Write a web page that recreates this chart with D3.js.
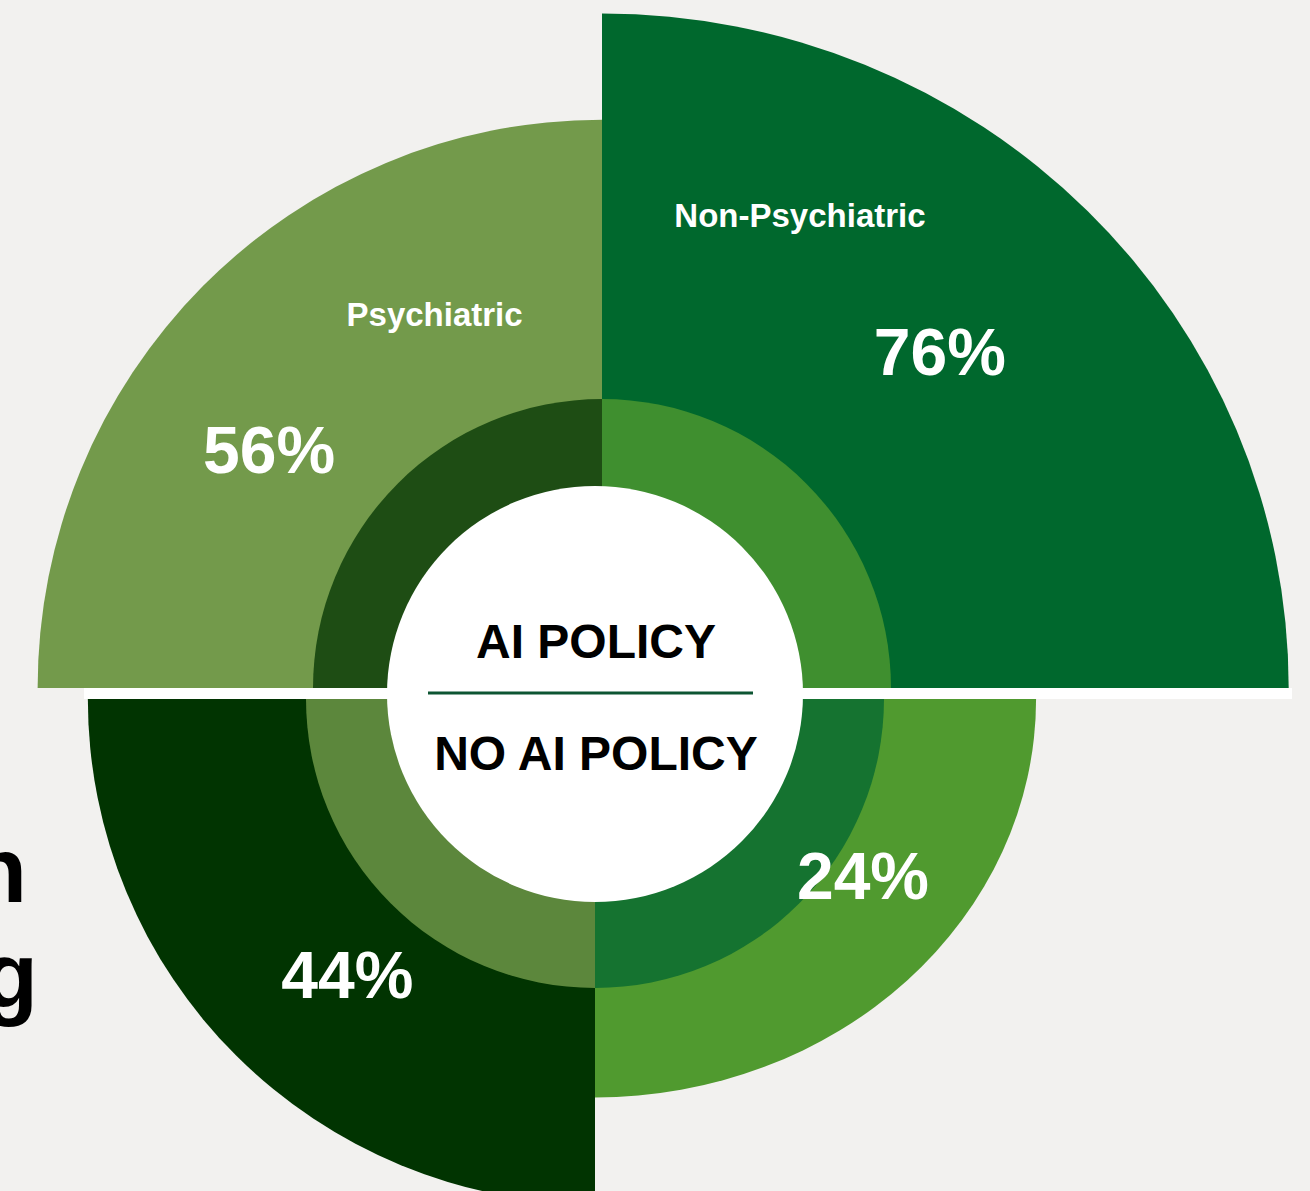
<!DOCTYPE html>
<html>
<head>
<meta charset="utf-8">
<script src="https://cdn.jsdelivr.net/npm/d3@7"></script>
<style>
body{margin:0;background:#f2f1ef;}
svg{display:block;font-family:"Liberation Sans",Arial,sans-serif;font-weight:bold;}
</style>
</head>
<body>
<div id="chart"></div>
<script>
// data
var groups = ['Non-Psychiatric', 'Psychiatric'];
var policies = ['AI POLICY', 'NO AI POLICY'];
var aiPolicy = [76, 56];
var noAiPolicy = [24, 44];

var width = 1310, height = 1191;
var innerR = 289;   // darker ring
var holeR = 208;    // white centre

// radius of a wedge grows with the share
var r = d3.scaleLinear()
  .domain([0, 100])
  .range([271, 802]);

var halves = [
  {name: policies[0], values: aiPolicy, cx: 602, cy: 688, a0: 0},
  {name: policies[1], values: noAiPolicy, cx: 595, cy: 699, a0: Math.PI}
];

// per quadrant look (order: halves x groups)
var looks = [
  {outer: '#00682d', inner: '#3f8f2f', sx: 1.018, lab: [45.1, 477], cat: [22.7, 513]},
  {outer: '#739a4b', inner: '#1e4d14', sx: 0.993, lab: [305.7, 410], cat: [335.9, 410]},
  {outer: '#509a2f', inner: '#157330', sx: 1.107, lab: [123.4, 321], cat: null},
  {outer: '#013401', inner: '#5c873c', sx: 1.005, lab: [222, 370], cat: null}
];

var quads = [];
halves.forEach(function (h, hi) {
  groups.forEach(function (g, gi) {
    // top half: non-psych right, psych left. bottom half: non-psych right, psych left
    var start, end;
    if (hi == 0) { start = gi == 0 ? 0 : -Math.PI / 2; }
    else { start = gi == 0 ? Math.PI / 2 : Math.PI; }
    end = start + Math.PI / 2;
    quads.push(Object.assign({policy: h.name, group: g, value: h.values[gi],
      a0: start, a1: end, cx: h.cx, cy: h.cy}, looks[hi * 2 + gi]));
  });
});

var svg = d3.select('#chart')
  .append('svg')
  .attr('width', width)
  .attr('height', height);

// cut-off heading on the left edge
svg.append('text').attr('x', 27).attr('y', 902).attr('text-anchor', 'end')
  .attr('font-size', 92).attr('fill', '#000').text('n');
svg.append('text').attr('x', 38).attr('y', 1008).attr('text-anchor', 'end')
  .attr('font-size', 92).attr('fill', '#000').text('g');

var outerArc = d3.arc()
  .innerRadius(0)
  .outerRadius(function (d) { return r(d.value); })
  .startAngle(function (d) { return d.a0; })
  .endAngle(function (d) { return d.a1; });

var innerArc = d3.arc()
  .innerRadius(0)
  .outerRadius(innerR)
  .startAngle(function (d) { return d.a0; })
  .endAngle(function (d) { return d.a1; });

svg.selectAll('path.outer')
  .data(quads)
  .enter().append('path')
  .attr('class', 'outer')
  .attr('transform', function (d) { return 'translate(' + d.cx + ',' + d.cy + ') scale(' + d.sx + ',1)'; })
  .attr('d', outerArc)
  .style('fill', function (d) { return d.outer; });

svg.selectAll('path.inner')
  .data(quads)
  .enter().append('path')
  .attr('class', 'inner')
  .attr('transform', function (d) { return 'translate(' + d.cx + ',' + d.cy + ')'; })
  .attr('d', innerArc)
  .style('fill', function (d) { return d.inner; });

// white band between the halves
svg.append('rect')
  .attr('x', 84).attr('y', 688)
  .attr('width', 1208).attr('height', 11)
  .style('fill', '#fff');

svg.append('circle')
  .attr('cx', 595).attr('cy', 694).attr('r', holeR)
  .style('fill', '#fff');

svg.append('line')
  .attr('x1', 428).attr('x2', 753)
  .attr('y1', 693).attr('y2', 693)
  .style('stroke', '#0d5532').style('stroke-width', 3);

svg.selectAll('text.policy')
  .data(halves)
  .enter().append('text')
  .attr('class', 'policy')
  .attr('x', 596)
  .attr('y', function (d, i) { return i == 0 ? 658 : 770; })
  .attr('text-anchor', 'middle')
  .attr('font-size', 48)
  .attr('fill', '#000')
  .text(function (d) { return d.name; });

// percentages
svg.selectAll('text.pct')
  .data(quads)
  .enter().append('text')
  .attr('class', 'pct')
  .attr('transform', function (d) {
    var p = d3.pointRadial(d.lab[0] * Math.PI / 180, d.lab[1]);
    return 'translate(' + (d.cx + p[0]) + ',' + (d.cy + p[1]) + ')';
  })
  .attr('dy', '0.36em')
  .attr('text-anchor', 'middle')
  .attr('font-size', 66)
  .attr('fill', '#fff')
  .text(function (d) { return d.value + '%'; });

// category names, top half only
svg.selectAll('text.cat')
  .data(quads.filter(function (d) { return d.cat; }))
  .enter().append('text')
  .attr('class', 'cat')
  .attr('transform', function (d) {
    var p = d3.pointRadial(d.cat[0] * Math.PI / 180, d.cat[1]);
    return 'translate(' + (d.cx + p[0]) + ',' + (d.cy + p[1]) + ')';
  })
  .attr('dy', '0.36em')
  .attr('text-anchor', 'middle')
  .attr('font-size', 33)
  .attr('fill', '#fff')
  .text(function (d) { return d.group; });
</script>
</body>
</html>
